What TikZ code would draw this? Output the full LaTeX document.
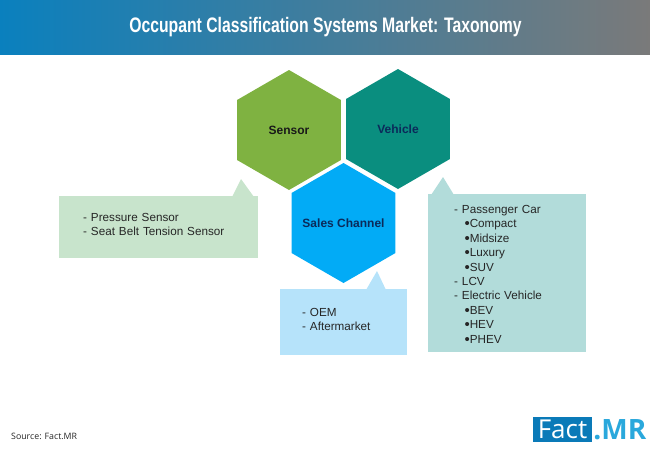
\documentclass[tikz,border=0pt]{standalone}
\usepackage{fontspec}
\setmainfont{Liberation Sans}
\newfontfamily\titlefont[FakeStretch=0.75]{Liberation Sans}
\newfontfamily\logofont{Open Sans}
\usetikzlibrary{positioning,shapes.geometric}
\definecolor{headblue}{HTML}{0A80BE}
\definecolor{headgray}{HTML}{7A7A7A}
\definecolor{sensorcol}{HTML}{7FB241}
\definecolor{vehiclecol}{HTML}{0A8E7F}
\definecolor{saleshex}{HTML}{02ABF6}
\definecolor{sensorpale}{HTML}{C8E4CC}
\definecolor{vehiclepale}{HTML}{B2DCDA}
\definecolor{salespale}{HTML}{B6E3FA}
\definecolor{bodytext}{HTML}{262626}
\definecolor{navytext}{HTML}{0B2A5A}
\definecolor{logoblue}{HTML}{0A7AB8}
\definecolor{logocyan}{HTML}{2AA8DC}
\tikzset{
  hexcell/.style={regular polygon,regular polygon sides=6,shape border rotate=30,minimum size=120pt,inner sep=0pt,
    font=\fontsize{12}{14}\selectfont\bfseries},
  infobox/.style={anchor=north west,align=left,text=bodytext,
    font=\fontsize{11.7}{14.4}\selectfont,inner ysep=0pt}
}
\newcommand{\bulletline}[1]{\hspace*{10.3pt}{\fontsize{15}{14.4}\selectfont\raisebox{-1pt}{\textbullet}}#1}
\begin{document}
\begin{tikzpicture}[x=1pt,y=-1pt]
\useasboundingbox (0,0) rectangle (650,450);
\shade[left color=headblue,right color=headgray] (0,0) rectangle (650,54);
\node[text=white,font=\fontsize{21}{24}\selectfont\titlefont\bfseries] (title) at (325.5,27) {Occupant Classification Systems Market: Taxonomy};

\node[hexcell,fill=sensorcol,text=black!90] (sensor) at (289,130) {Sensor};
\node[hexcell,fill=vehiclecol,text=navytext] (vehicle) at (398,129) {Vehicle};
\node[hexcell,fill=saleshex,text=navytext] (sales) at (343.5,223) {\makebox[0pt][c]{Sales Channel}};

\fill[sensorpale] (232,197) -- (241,179) -- (254,197) -- cycle;
\fill[vehiclepale] (431,195) -- (443,177) -- (454,195) -- cycle;
\fill[salespale] (366,290) -- (377,271) -- (386,290) -- cycle;

\node[infobox,fill=sensorpale,minimum height=62pt,text width=151pt,inner xsep=24pt] (sensorbox) at (59,196) {- Pressure Sensor\\- Seat Belt Tension Sensor\rule[-5pt]{0pt}{0pt}};
\node[infobox,fill=salespale,minimum height=66pt,text width=83pt,inner xsep=22pt] (salesbox) at (280,289) {- OEM\\- Aftermarket\rule[-5pt]{0pt}{0pt}};
\node[infobox,fill=vehiclepale,minimum height=158pt,text width=106pt,inner xsep=26pt] (vehiclebox) at (428,194) {\rule{0pt}{11pt}- Passenger Car\\
\bulletline{Compact}\\
\bulletline{Midsize}\\
\bulletline{Luxury}\\
\bulletline{SUV}\\
- LCV\\
- Electric Vehicle\\
\bulletline{BEV}\\
\bulletline{HEV}\\
\bulletline{PHEV}};

\node[anchor=west,text=bodytext,font=\fontsize{8.8}{11}\selectfont\logofont,inner sep=0pt] (source) at (11,436) {Source: Fact.MR};
\node[fill=logoblue,text=white,font=\fontsize{26}{26}\selectfont\logofont,minimum width=59pt,minimum height=25pt,inner sep=0pt] (factlogo) at (562.5,429.5) {Fact};
\node[right=1pt of factlogo,text=logocyan,font=\fontsize{28}{28}\selectfont\logofont\bfseries,inner sep=0pt] (mrlogo) {.MR};
\end{tikzpicture}
\end{document}
